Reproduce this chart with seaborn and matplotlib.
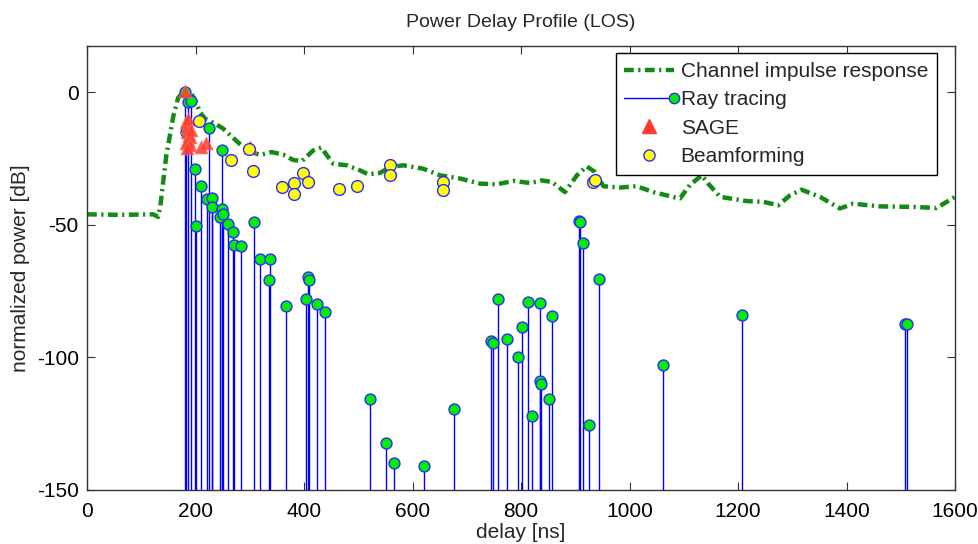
import numpy as np
import pandas as pd
import matplotlib
matplotlib.use("Agg")
import matplotlib.pyplot as plt
import seaborn as sns
from matplotlib.lines import Line2D
from matplotlib.legend_handler import HandlerBase

# Channel impulse response (delay in ns, power in dB)
cir_delay = [0, 60, 122, 131, 135, 146, 159, 168, 178, 192, 202, 208, 218, 233,
             250, 264, 282, 300, 319, 340, 362, 380, 396, 417, 432, 442, 454,
             479, 503, 518, 540, 558, 583, 620, 651, 688, 724, 755, 786, 817,
             838, 857, 881, 903, 921, 936, 952, 982, 1013, 1044, 1081, 1093,
             1111, 1133, 1145, 1167, 1216, 1247, 1274, 1296, 1317, 1351, 1388,
             1412, 1462, 1523, 1566, 1600]
cir_power = [-46, -46.2, -46, -47, -43, -24, -9, -2, 0, -0.4, -4, -7.5, -10, -11.5,
             -13.5, -16.2, -19.5, -22.3, -23.6, -22.5, -23.5, -25.5, -25.9, -21.9,
             -20.8, -23.7, -26.9, -27.5, -29.4, -30.9, -30.4, -28.2, -27.5, -28.8,
             -31.3, -32.5, -34.4, -34.7, -33.4, -34.2, -33.2, -33.8, -37.6, -31.3,
             -27.9, -30, -35.4, -35.9, -35.4, -37.6, -39.5, -40, -35, -31.3, -34.4,
             -39.4, -41, -41.3, -42.6, -38.8, -36.7, -39.4, -43.8, -42, -43, -43.2,
             -43.6, -39.4]

# Ray tracing paths
rt_delay = [181, 187, 191, 183, 199, 201, 211, 222, 225, 230, 230, 249, 249, 245,
            251, 260, 269, 271, 283, 307, 319, 337, 336, 366, 404, 408, 409, 423,
            439, 522, 551, 566, 621, 677, 744, 748, 758, 775, 795, 801, 812, 820,
            835, 835, 837, 852, 857, 906, 908, 915, 926, 944, 1062, 1207, 1508, 1512]
rt_power = [0, -3.6, -3.4, -15, -28.8, -50.5, -35.4, -40.3, -13.4, -39.8, -43.2,
            -21.9, -43.9, -47, -45.7, -49.5, -52.6, -57.7, -58, -48.9, -63, -63,
            -70.6, -80.5, -77.8, -69.6, -70.6, -80, -83, -115.7, -132.3, -139.8,
            -141, -119.5, -93.7, -94.7, -78.1, -93, -99.9, -88.6, -79, -122.2,
            -79.5, -108.8, -110, -115.7, -84.2, -48.5, -49, -56.8, -125.4, -70.3,
            -103, -83.9, -87.2, -87.2]

# SAGE estimates
sage_delay = [181, 183, 185, 187, 184, 188, 186, 190, 183, 189, 191, 185, 211, 220, 300]
sage_power = [0.5, -11, -13, -10, -15, -16, -18, -17, -19, -20, -14, -21, -20.5, -19, -20.5]

# Beamforming estimates
bf_delay = [207, 265, 299, 306, 359, 381, 381, 399, 408, 465, 498, 558, 558, 657, 657, 933, 936]
bf_power = [-10.8, -25.4, -21.2, -29.8, -35.7, -34, -38.2, -30.3, -33.9, -36.6,
            -35.4, -27.5, -31.3, -33.8, -37, -33.8, -33]

Y_MIN, Y_MAX = -150, 17.5
CIR_DASH = [2.2, 1.0, 0.5, 1.0]

cir = pd.DataFrame({"delay": cir_delay, "power": cir_power})
rt = pd.DataFrame({"delay": rt_delay, "power": rt_power})
sage = pd.DataFrame({"delay": sage_delay, "power": sage_power})
bf = pd.DataFrame({"delay": bf_delay, "power": bf_power})

sns.set_theme(style="white")
plt.rcParams["font.family"] = ["Liberation Sans", "DejaVu Sans"]
plt.rcParams["axes.unicode_minus"] = False

fig = plt.figure(figsize=(9.79, 5.44), dpi=100)
ax = fig.add_axes([0.0889, 0.0993, 0.9755 - 0.0889, 0.9154 - 0.0993])

# impulse response curve
sns.lineplot(data=cir, x="delay", y="power", ax=ax, color="#138a13", lw=3.2,
             zorder=2, legend=False, sort=False)
ax.lines[-1].set_dashes(CIR_DASH)

# ray tracing stems
ax.vlines(rt["delay"], Y_MIN, rt["power"], colors="#0000ff", lw=1.0, zorder=4)
sns.scatterplot(data=rt, x="delay", y="power", ax=ax, marker="o", s=62,
                color="#00ee00", edgecolor="#2b2bff", linewidth=1.0, zorder=5,
                legend=False)

# SAGE markers
sns.scatterplot(data=sage, x="delay", y="power", ax=ax, marker="^", s=85,
                color="#ff3b30", edgecolor="#ff6a5a", linewidth=0.6, zorder=6,
                alpha=0.85, legend=False)

# beamforming markers
sns.scatterplot(data=bf, x="delay", y="power", ax=ax, marker="o", s=72,
                color="#ffff00", edgecolor="#2b2bff", linewidth=1.0, zorder=7,
                legend=False)

ax.set_xlim(0, 1600)
ax.set_ylim(Y_MIN, Y_MAX)
ax.set_xticks(np.arange(0, 1601, 200))
ax.set_yticks([-150, -100, -50, 0])
ax.tick_params(direction="in", length=6, width=0.8, colors="#333333",
               labelsize=15, labelcolor="black", top=True, right=True,
               bottom=True, left=True)
ax.tick_params(axis="x", pad=9)
ax.tick_params(axis="y", pad=6)
for sp in ax.spines.values():
    sp.set_color("#333333")
    sp.set_linewidth(1.0)
ax.set_xlabel("delay [ns]", fontsize=15, labelpad=1)
ax.set_ylabel("normalized power [dB]", fontsize=15, labelpad=5)
ax.set_title("Power Delay Profile (LOS)", fontsize=14, pad=14)


class StemHandler(HandlerBase):
    def create_artists(self, legend, orig_handle, xdescent, ydescent,
                       width, height, fontsize, trans):
        y = height / 2 - ydescent
        ln = Line2D([-xdescent, width - xdescent], [y, y], color="#0000ff", lw=1.0)
        mk = Line2D([width - xdescent], [y], marker="o", markersize=7.5,
                    markerfacecolor="#00ee00", markeredgecolor="#2b2bff",
                    linestyle="none")
        ln.set_transform(trans)
        mk.set_transform(trans)
        return [ln, mk]


class StemKey:
    pass


h_cir = Line2D([], [], color="#138a13", lw=3.2, dashes=CIR_DASH)
h_rt = StemKey()
h_sage = Line2D([], [], marker="^", color="#ff3b30", markersize=9.5, linestyle="none")
h_bf = Line2D([], [], marker="o", markerfacecolor="#ffff00",
              markeredgecolor="#2b2bff", markersize=8, linestyle="none")

leg = ax.legend([h_cir, h_rt, h_sage, h_bf],
                ["Channel impulse response", "Ray tracing", "SAGE", "Beamforming"],
                handler_map={StemKey: StemHandler()},
                loc="upper right", bbox_to_anchor=(0.979, 0.984), borderaxespad=0,
                fontsize=15, frameon=True, fancybox=False, framealpha=1,
                edgecolor="black", handlelength=2.4, handletextpad=0.3,
                labelspacing=0.45, borderpad=0.42)
leg.get_frame().set_linewidth(1.0)
leg.set_zorder(10)

fig.savefig("out.png", dpi=100)
